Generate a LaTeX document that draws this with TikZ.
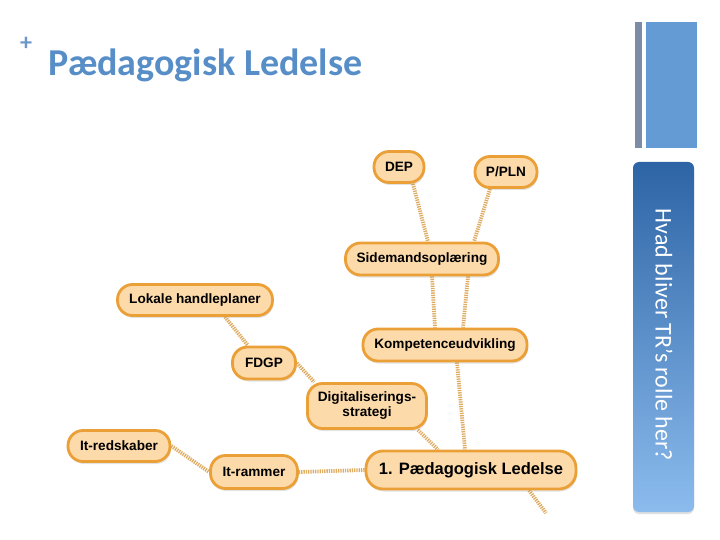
\documentclass[tikz,border=0pt]{standalone}
\usepackage{fontspec}
\setmainfont{Liberation Sans}
\newfontfamily\calib{Carlito}
\usetikzlibrary{shadows,calc,backgrounds}
\definecolor{nodefill}{RGB}{252,218,170}
\definecolor{nodeline}{RGB}{234,160,55}
\definecolor{linkcol}{RGB}{222,172,98}
\definecolor{titleblue}{RGB}{88,142,200}
\definecolor{plusblue}{RGB}{110,150,200}
\definecolor{bargray}{RGB}{125,140,165}
\definecolor{barblue}{RGB}{100,155,212}
\definecolor{sidetop}{RGB}{45,100,165}
\definecolor{sidebot}{RGB}{140,188,238}
\tikzset{
  mapbox/.style={draw=nodeline, line width=2.8pt, fill=nodefill, rounded corners=15pt,
    font=\fontsize{13.6}{15}\selectfont\bfseries, text=black, inner sep=0pt, align=center,
    drop shadow={opacity=0.22, shadow xshift=1pt, shadow yshift=-2.5pt}},
  link/.style={draw=linkcol, line width=3.8pt, dash pattern=on 1.3pt off 1pt},
}
\begin{document}
\begin{tikzpicture}[x=1pt,y=-1pt]
\useasboundingbox (0,0) rectangle (720,540);
% header
\node[font=\calib\fontsize{24}{24}\selectfont\bfseries, text=plusblue] (plus) at (26,44) {+};
\node[font=\calib\fontsize{38}{40}\selectfont\bfseries, text=titleblue, anchor=base west] (title) at (45,76) {Pædagogisk Ledelse};
% right decoration
\fill[bargray] (635,22) rectangle (642,148);
\fill[barblue] (646,22) rectangle (697,148);
\shade[top color=sidetop, bottom color=sidebot, rounded corners=6pt,
  drop shadow={opacity=0.25, shadow xshift=0pt, shadow yshift=-2pt}] (633,162) rectangle (694,512);
\node[rotate=-90, text=white, font=\calib\fontsize{24}{25}\selectfont] (tr) at (664,335) {Hvad bliver TR’s rolle her?};
% nodes
\node[mapbox, minimum width=50pt, minimum height=31pt] (dep) at (399,167) {DEP};
\node[mapbox, minimum width=62pt, minimum height=31pt] (ppln) at (506,172) {P/PLN};
\node[mapbox, minimum width=153pt, minimum height=32pt] (side) at (422,259) {Sidemandsoplæring};
\node[mapbox, minimum width=155pt, minimum height=31pt] (lok) at (195,300) {Lokale handleplaner};
\node[mapbox, minimum width=164pt, minimum height=32pt] (komp) at (445,345) {Kompetenceudvikling};
\node[mapbox, minimum width=63pt, minimum height=32pt] (fdgp) at (264,363) {FDGP};
\node[mapbox, minimum width=119pt, minimum height=45pt] (digi) at (367,406) {Digitaliserings-\\strategi};
\node[mapbox, minimum width=102pt, minimum height=31pt] (itred) at (119,446) {It-redskaber};
\node[mapbox, minimum width=87pt, minimum height=33pt] (itram) at (254,472) {It-rammer};
\node[mapbox, minimum width=210pt, minimum height=38pt, rounded corners=17pt, font=\fontsize{16.5}{19}\selectfont\bfseries] (ped) at (471,470) {1. Pædagogisk Ledelse};
\coordinate (tail) at (546,513);
% links
\begin{pgfonlayer}{background}
\draw[link] ([xshift=14pt]dep.south) -- ([xshift=6pt]side.north);
\draw[link] ([xshift=-16pt]ppln.south) -- ([xshift=52pt]side.north);
\draw[link] ([xshift=10pt]side.south) -- ([xshift=-10pt]komp.north);
\draw[link] ([xshift=46pt]side.south) -- ([xshift=18pt]komp.north);
\draw[link] ([xshift=12pt]komp.south) -- ([xshift=-6pt]ped.north);
\draw[link] ([xshift=-10pt]digi.south east) -- ([xshift=-33pt]ped.north);
\draw[link] (fdgp.east) -- ([xshift=8pt]digi.north west);
\draw[link] ([xshift=30pt]lok.south) -- ([xshift=-16pt]fdgp.north);
\draw[link] (itred.east) -- (itram.west);
\draw[link] (itram.east) -- (ped.west);
\draw[link] ([xshift=58pt]ped.south) -- (tail);
\end{pgfonlayer}
\end{tikzpicture}
\end{document}
